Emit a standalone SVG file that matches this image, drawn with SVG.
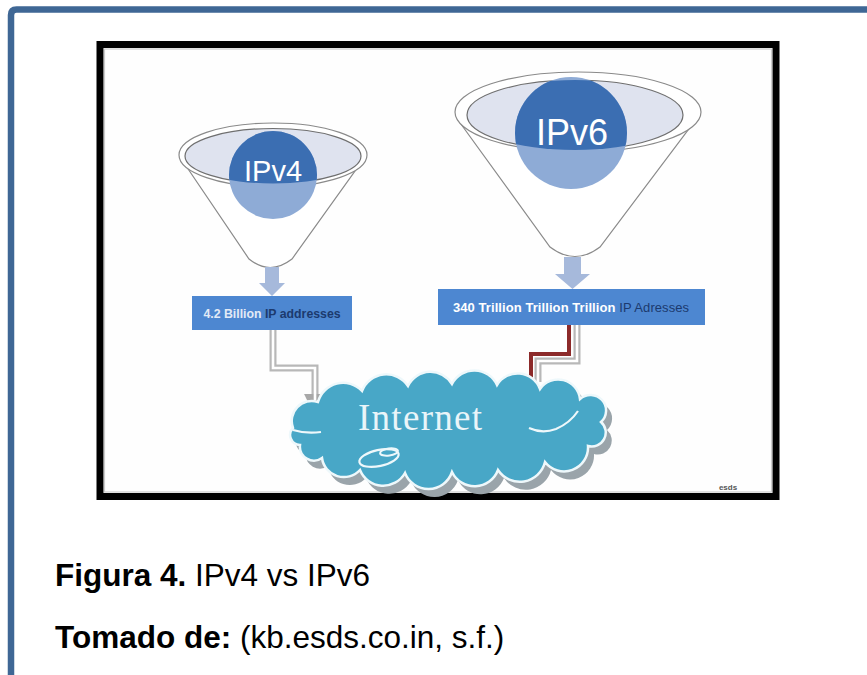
<svg xmlns="http://www.w3.org/2000/svg" width="867" height="675" viewBox="0 0 867 675">
  <style>
    .rim { fill: #ffffff; stroke: #8a8a8a; stroke-width: 1.2; }
    .mouth { fill: #dfe3ef; stroke: #6f6f6f; stroke-width: 1.2; }
    .cone { fill: #ffffff; stroke: #8a8a8a; stroke-width: 1.2; }
    .orb-lo { fill: #8eabd6; }
    .orb-hi { fill: #3b6eb2; }
    .orb-txt { font-family: "Liberation Sans", "DejaVu Sans", sans-serif; fill: #ffffff; text-anchor: middle; }
    .down { fill: #a6b9db; }
    .box { fill: #4d87d1; }
    .box-txt { font-family: "Liberation Sans", "DejaVu Sans", sans-serif; font-weight: bold; text-anchor: middle; }
    .pipe-out { fill: none; stroke: #b8b8b8; stroke-width: 7; stroke-linejoin: miter; }
    .pipe-in { fill: none; stroke: #ffffff; stroke-width: 2.6; stroke-linejoin: miter; }
    .cap { font-family: "Liberation Sans", Arial, sans-serif; font-size: 31.5px; fill: #000000; }
  </style>
  <defs>
    <marker id="tipGray" viewBox="0 0 10 10" refX="2" refY="5" markerWidth="3.2" markerHeight="3.2" orient="auto" markerUnits="strokeWidth">
      <path d="M0,0 L10,5 L0,10 z" fill="#a8a8a8"/>
    </marker>
    <marker id="tipRed" viewBox="0 0 10 10" refX="2" refY="5" markerWidth="3" markerHeight="3" orient="auto" markerUnits="strokeWidth">
      <path d="M0,0 L10,5 L0,10 z" fill="#8c2a2a"/>
    </marker>
    <clipPath id="mouth4"><ellipse cx="273" cy="156" rx="88" ry="27.5"/></clipPath>
    <clipPath id="mouth6"><ellipse cx="575" cy="115" rx="108" ry="35"/></clipPath>
    <path id="cloudShape" d="M 293 428 A 20 20 0 0 1 318 402 A 26 26 0 0 1 362 391 A 26 26 0 0 1 408 386 A 25 25 0 0 1 452 384 A 25 25 0 0 1 497 385 A 24 24 0 0 1 540 389 A 22 22 0 0 1 580 399 A 15 15 0 0 1 601 422 A 14 14 0 0 1 588 446 A 24 24 0 0 1 545 462 A 26 26 0 0 1 498 470 A 25 25 0 0 1 452 472 A 25 25 0 0 1 405 473 A 25 25 0 0 1 360 470 A 22 22 0 0 1 322 458 A 14 14 0 0 1 300 445 A 10 10 0 0 1 293 428 Z"/>
  </defs>

  <!-- page frame -->
  <rect x="0" y="0" width="867" height="675" fill="#ffffff"/>
  <path d="M 11 675 V 15 Q 11 9.5 16.5 9.5 H 867" fill="none" stroke="#3f6795" stroke-width="6.5"/>

  <!-- picture frame -->
  <rect x="100" y="44.5" width="676" height="452" fill="#fefefe" stroke="#000000" stroke-width="7"/>
  <rect x="104.5" y="49" width="667" height="443" fill="none" stroke="#cccccc" stroke-width="1.2"/>

  <!-- IPv4 funnel -->
  <g id="funnel-ipv4">
    <path class="cone" d="M 180 157 L 249 259 Q 270 276 292 259 L 365 157 Z"/>
    <ellipse class="rim" cx="273" cy="155" rx="94" ry="32"/>
    <ellipse class="mouth" cx="273" cy="156" rx="88" ry="27.5"/>
    <circle class="orb-lo" cx="273" cy="175" r="44"/>
    <circle class="orb-hi" cx="273" cy="175" r="44" clip-path="url(#mouth4)"/>
    <text class="orb-txt" x="273" y="181" font-size="29">IPv4</text>
    <path class="down" d="M 265 267 H 279 V 283 H 285 L 272 296 L 259 283 H 265 Z"/>
  </g>

  <!-- IPv6 funnel -->
  <g id="funnel-ipv6">
    <path class="cone" d="M 458 120 L 550 247 Q 575 266 600 247 L 694 122 Z"/>
    <ellipse class="rim" cx="578" cy="112" rx="123" ry="40"/>
    <ellipse class="mouth" cx="575" cy="115" rx="108" ry="35"/>
    <circle class="orb-lo" cx="571" cy="133" r="56"/>
    <circle class="orb-hi" cx="571" cy="133" r="56" clip-path="url(#mouth6)"/>
    <text class="orb-txt" x="572" y="145" font-size="36">IPv6</text>
    <path class="down" d="M 564 257 H 581 V 274 H 590 L 572.5 289 L 555 274 H 564 Z"/>
  </g>

  <!-- address counts -->
  <g id="box-ipv4">
    <rect class="box" x="192" y="296" width="160" height="34"/>
    <text class="box-txt" x="272" y="317.5" font-size="12.3"><tspan fill="#e2eaf6">4.2 Billion </tspan><tspan fill="#1c3a6e">IP addresses</tspan></text>
  </g>
  <g id="box-ipv6">
    <rect class="box" x="438" y="289" width="267" height="36"/>
    <text class="box-txt" x="571" y="311.5" font-size="13" textLength="236"><tspan fill="#ffffff">340 Trillion Trillion Trillion </tspan><tspan fill="#1c3a6e" font-weight="normal">IP Adresses</tspan></text>
  </g>

  <!-- connectors -->
  <g id="connectors">
    <path class="pipe-out" d="M 273 330 V 368 H 315 V 398" marker-end="url(#tipGray)"/>
    <path class="pipe-in" d="M 273 330 V 368 H 315 V 400"/>
    <path class="pipe-out" d="M 577 325 V 361 H 538 V 382" stroke-width="6"/>
    <path class="pipe-in" d="M 577 325 V 361 H 538 V 382" stroke-width="2"/>
    <path d="M 569 325 V 354 H 531 V 383" fill="none" stroke="#8c2a2a" stroke-width="4" marker-end="url(#tipRed)"/>
  </g>

  <!-- Internet cloud -->
  <g id="cloud-internet">
    <use href="#cloudShape" transform="translate(6 8)" fill="#9aa4aa"/>
    <use href="#cloudShape" fill="#48a7c7" stroke="#eef8fb" stroke-width="2.5"/>
    <path d="M 293 430 Q 306 434 321 432" fill="none" stroke="#eef8fb" stroke-width="2.2"/>
    <path d="M 529 428 Q 542 434 556 429 Q 570 423 578 411" fill="none" stroke="#eef8fb" stroke-width="2.2"/>
    <ellipse cx="379" cy="458" rx="20" ry="8" transform="rotate(-12 379 458)" fill="none" stroke="#eef8fb" stroke-width="2.2"/>
    <ellipse cx="389" cy="452" rx="9" ry="3.5" transform="rotate(-8 389 452)" fill="none" stroke="#eef8fb" stroke-width="2"/>
    <text x="420" y="430" font-family="Liberation Serif, 'DejaVu Serif', serif" font-size="37" fill="#eaf5f9" text-anchor="middle" textLength="124">Internet</text>
  </g>

  <text x="728" y="490" font-family="Liberation Sans, sans-serif" font-size="8" font-weight="bold" fill="#555555" text-anchor="middle">esds</text>

  <!-- caption -->
  <text class="cap" x="55" y="586"><tspan font-weight="bold">Figura 4.</tspan> IPv4 vs IPv6</text>
  <text class="cap" x="55" y="648"><tspan font-weight="bold">Tomado de:</tspan> (kb.esds.co.in, s.f.)</text>
</svg>
